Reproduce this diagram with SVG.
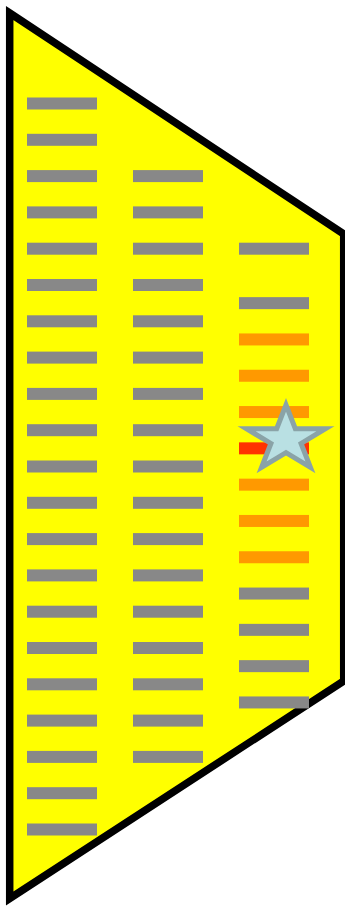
<svg xmlns="http://www.w3.org/2000/svg" width="345" height="907" viewBox="0 0 345 907">
<style>
.g{fill:#888888}
.o{fill:#FF9900}
.r{fill:#FF3300}
</style>
<rect width="345" height="907" fill="#ffffff"/>
<g id="body">
<polygon points="9.7,13 343.7,234 343.7,681 9.7,898.5" fill="#FFFF00" stroke="#000000" stroke-width="7.5" stroke-linejoin="miter" stroke-miterlimit="10"/>
</g>
<g id="col1">
<rect class="g" x="27" y="97.5" width="70" height="12"/>
<rect class="g" x="27" y="133.8" width="70" height="12"/>
<rect class="g" x="27" y="170.1" width="70" height="12"/>
<rect class="g" x="27" y="206.4" width="70" height="12"/>
<rect class="g" x="27" y="242.7" width="70" height="12"/>
<rect class="g" x="27" y="279" width="70" height="12"/>
<rect class="g" x="27" y="315.3" width="70" height="12"/>
<rect class="g" x="27" y="351.6" width="70" height="12"/>
<rect class="g" x="27" y="387.9" width="70" height="12"/>
<rect class="g" x="27" y="424.2" width="70" height="12"/>
<rect class="g" x="27" y="460.5" width="70" height="12"/>
<rect class="g" x="27" y="496.8" width="70" height="12"/>
<rect class="g" x="27" y="533.1" width="70" height="12"/>
<rect class="g" x="27" y="569.4" width="70" height="12"/>
<rect class="g" x="27" y="605.7" width="70" height="12"/>
<rect class="g" x="27" y="642" width="70" height="12"/>
<rect class="g" x="27" y="678.3" width="70" height="12"/>
<rect class="g" x="27" y="714.6" width="70" height="12"/>
<rect class="g" x="27" y="750.9" width="70" height="12"/>
<rect class="g" x="27" y="787.2" width="70" height="12"/>
<rect class="g" x="27" y="823.5" width="70" height="12"/>
</g>
<g id="col2">
<rect class="g" x="133" y="170.1" width="70" height="12"/>
<rect class="g" x="133" y="206.4" width="70" height="12"/>
<rect class="g" x="133" y="242.7" width="70" height="12"/>
<rect class="g" x="133" y="279" width="70" height="12"/>
<rect class="g" x="133" y="315.3" width="70" height="12"/>
<rect class="g" x="133" y="351.6" width="70" height="12"/>
<rect class="g" x="133" y="387.9" width="70" height="12"/>
<rect class="g" x="133" y="424.2" width="70" height="12"/>
<rect class="g" x="133" y="460.5" width="70" height="12"/>
<rect class="g" x="133" y="496.8" width="70" height="12"/>
<rect class="g" x="133" y="533.1" width="70" height="12"/>
<rect class="g" x="133" y="569.4" width="70" height="12"/>
<rect class="g" x="133" y="605.7" width="70" height="12"/>
<rect class="g" x="133" y="642" width="70" height="12"/>
<rect class="g" x="133" y="678.3" width="70" height="12"/>
<rect class="g" x="133" y="714.6" width="70" height="12"/>
<rect class="g" x="133" y="750.9" width="70" height="12"/>
</g>
<g id="col3">
<rect class="g" x="239" y="242.7" width="70" height="12"/>
<rect class="g" x="239" y="297.15" width="70" height="12"/>
<rect class="o" x="239" y="333.45" width="70" height="12"/>
<rect class="o" x="239" y="369.75" width="70" height="12"/>
<rect class="o" x="239" y="406.05" width="70" height="12"/>
<rect class="r" x="239" y="442.35" width="70" height="12"/>
<rect class="o" x="239" y="478.65" width="70" height="12"/>
<rect class="o" x="239" y="514.95" width="70" height="12"/>
<rect class="o" x="239" y="551.25" width="70" height="12"/>
<rect class="g" x="239" y="587.55" width="70" height="12"/>
<rect class="g" x="239" y="623.85" width="70" height="12"/>
<rect class="g" x="239" y="660.15" width="70" height="12"/>
<rect class="g" x="239" y="696.45" width="70" height="12"/>
</g>
<g id="star">
<polygon points="286,404.9 295.32,428.74 325.47,428.74 301.07,443.47 310.4,467.31 286,452.58 261.6,467.31 270.93,443.47 246.53,428.74 276.68,428.74" fill="#B9E0E3" stroke="#8AA3A7" stroke-width="5" stroke-linejoin="miter" stroke-miterlimit="10"/>
</g>
</svg>
